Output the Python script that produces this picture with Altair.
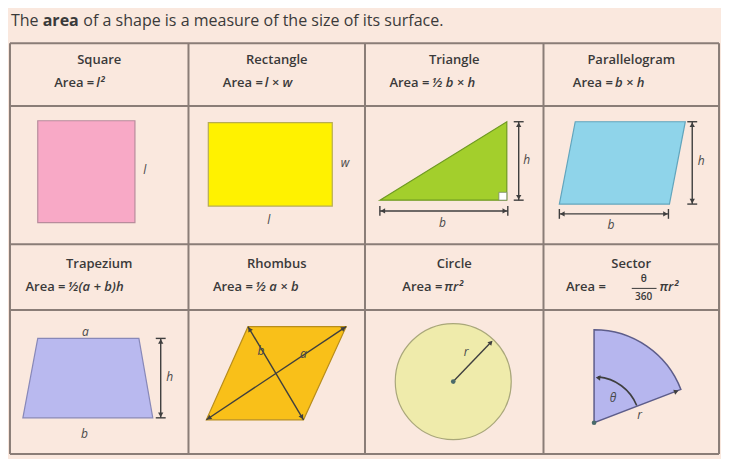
import math
import altair as alt
import pandas as pd

# ---------------- data (reference pixel coordinates) ----------------
col_edges = [12, 192, 370, 550, 727]
row_edges = [43, 107, 248, 315, 462]

shape_names = ["Square", "Rectangle", "Triangle", "Parallelogram",
               "Trapezium", "Rhombus", "Circle", "Sector"]
name_x = [102, 281, 460, 638.5, 102, 281, 460, 638.5]
name_y = [60, 60, 60, 60, 268, 268, 268, 268]
area_end_x = [97, 267, 435, 620, 68, 257, 448, 613]
formula_rhs = ["l²", "l × w", "½ b × h", "b × h", "½(a + b)h", "½ a × b", "πr²", "πr²"]
rhs_x = [99, 269, 437, 622, 70, 259, 450, 667]
formula_y = [84, 84, 84, 84, 292, 292, 292, 292]

title_parts = ["The", "area", "of a shape is a measure of the size of its surface."]
title_x = [13, 45, 86]

# rectangles: square, rectangle
rect_x1 = [40, 212]
rect_x2 = [138, 337]
rect_y1 = [122, 124]
rect_y2 = [226, 209]
rect_fill = ["#f8a9c6", "#fff200"]
rect_stroke = ["#b88c9c", "#b7ad55"]

triangle_x = [385, 513, 513]
triangle_y = [203, 123, 203]
parallelogram_x = [582, 693, 677, 566]
parallelogram_y = [123, 123, 207, 207]
trapezium_x = [40, 142, 156, 25]
trapezium_y = [344, 344, 425, 425]
rhombus_x = [252, 351, 308, 210]
rhombus_y = [332, 332, 427, 427]

circle_c = (459, 388)
circle_r = 58
sector_c = (601, 430)
sector_r = 93
sector_deg = (0, 69)
angle_arc_deg = (5, 68)
angle_arc_r = 46

labels_text = ["l", "w", "l", "h", "b", "h", "b", "a", "b", "h", "b", "a", "r", "θ", "r"]
labels_x = [148, 350, 273, 533, 448, 709, 618, 88, 87, 173, 265, 308, 472, 620, 647]
labels_y = [172, 165, 223, 162, 226, 163, 228, 337, 442, 383, 357, 360, 358, 405, 422]

# dimension lines (both-ended arrows)
dims = [
    (525, 123, 525, 203), (385, 214, 514, 214),
    (700, 123, 700, 207), (566, 217, 676, 217),
    (164, 344, 164, 425),
    (210, 427, 351, 332), (252, 332, 308, 427),
]
caps = [
    (520, 123, 530, 123), (520, 203, 530, 203),
    (385, 209, 385, 219), (514, 209, 514, 219),
    (695, 123, 705, 123), (695, 207, 705, 207),
    (566, 212, 566, 222), (676, 212, 676, 222),
    (159, 344, 169, 344), (159, 425, 169, 425),
]
radius_line = (459, 388, 497, 348)
sector_edge_tip = (684, 398)

# ---------------- helpers ----------------
W, H = 713, 451
xs = alt.Scale(domain=[10, 729], nice=False, zero=False)
ys = alt.Scale(domain=[7, 467], nice=False, zero=False, reverse=True)


def X(f):
    return alt.X(f, type="quantitative", scale=xs, axis=None)


def Y(f):
    return alt.Y(f, type="quantitative", scale=ys, axis=None)


def ang(dx, dy):
    return (math.degrees(math.atan2(dx, -dy)) + 360) % 360


TXT = "#3a3a3a"
LINE = "#3f3f3f"
layers = []

# background
bg = pd.DataFrame({"x": [10], "x2": [729], "y": [7], "y2": [467]})
layers.append(alt.Chart(bg).mark_rect(fill="#fae8de").encode(
    x=X("x"), x2="x2", y=Y("y"), y2="y2"))

# grid
grid = pd.DataFrame(
    [{"x": c, "y": row_edges[0], "x2": c, "y2": row_edges[-1]} for c in col_edges] +
    [{"x": col_edges[0], "y": r, "x2": col_edges[-1], "y2": r} for r in row_edges])
layers.append(alt.Chart(grid).mark_rule(color="#8a7d77", strokeWidth=2).encode(
    x=X("x"), y=Y("y"), x2="x2", y2="y2"))

# title
tdf = pd.DataFrame({"x": title_x, "t": title_parts, "y": [20] * 3})
for i, w in enumerate(["normal", "bold", "normal"]):
    layers.append(alt.Chart(tdf.iloc[[i]]).mark_text(
        font="Open Sans", fontSize=16, fontWeight=w, color=TXT, align="left",
        baseline="middle").encode(x=X("x"), y=Y("y"), text="t:N"))

# headers
hdf = pd.DataFrame({"x": name_x, "y": name_y, "t": shape_names})
layers.append(alt.Chart(hdf).mark_text(
    font="Open Sans", fontSize=13, fontWeight=600, color=TXT, align="center",
    baseline="middle").encode(x=X("x"), y=Y("y"), text="t:N"))
adf = pd.DataFrame({"x": area_end_x, "y": formula_y, "t": ["Area ="] * 8})
layers.append(alt.Chart(adf).mark_text(
    font="Open Sans", fontSize=13, fontWeight=600, color=TXT, align="right",
    baseline="middle").encode(x=X("x"), y=Y("y"), text="t:N"))
rdf = pd.DataFrame({"x": rhs_x, "y": formula_y, "t": formula_rhs})
layers.append(alt.Chart(rdf).mark_text(
    font="Open Sans", fontSize=13, fontWeight=600, fontStyle="italic", color=TXT,
    align="left", baseline="middle").encode(x=X("x"), y=Y("y"), text="t:N"))
# sector fraction
fdf = pd.DataFrame({"x": [651, 651], "y": [283, 302], "t": ["θ", "360"]})
layers.append(alt.Chart(fdf).mark_text(
    font="Open Sans", fontSize=10, fontWeight=600, color=TXT, align="center",
    baseline="middle").encode(x=X("x"), y=Y("y"), text="t:N"))
fl = pd.DataFrame({"x": [639], "x2": [664], "y": [293], "y2": [293]})
layers.append(alt.Chart(fl).mark_rule(color=TXT, strokeWidth=1).encode(
    x=X("x"), x2="x2", y=Y("y"), y2="y2"))

# rectangles
rdf2 = pd.DataFrame({"x": rect_x1, "x2": rect_x2, "y": rect_y1, "y2": rect_y2})
for i in range(len(rect_x1)):
    layers.append(alt.Chart(rdf2.iloc[[i]]).mark_rect(
        fill=rect_fill[i], stroke=rect_stroke[i], strokeWidth=1.2).encode(
        x=X("x"), x2="x2", y=Y("y"), y2="y2"))

# polygons
polys = [
    (triangle_x, triangle_y, "#a3cf2c", "#6f9a22"),
    (parallelogram_x, parallelogram_y, "#8fd4ea", "#62a5bd"),
    (trapezium_x, trapezium_y, "#b9b9ef", "#8888b8"),
    (rhombus_x, rhombus_y, "#f9c019", "#b88d1c"),
]
for px, py, f, s in polys:
    pdf = pd.DataFrame({"x": px, "y": py, "i": list(range(len(px)))})
    layers.append(alt.Chart(pdf).mark_line(
        interpolate="linear-closed", fill=f, stroke=s, strokeWidth=1.2).encode(
        x=X("x"), y=Y("y"), order="i:Q"))

# right-angle marker
ram = pd.DataFrame({"x": [505], "x2": [513], "y": [195], "y2": [203]})
layers.append(alt.Chart(ram).mark_rect(fill="white", stroke="#7a8a6a", strokeWidth=0.8).encode(
    x=X("x"), x2="x2", y=Y("y"), y2="y2"))

# circle and sector (arcs)
arcs = pd.DataFrame({
    "cx": [circle_c[0], sector_c[0]],
    "cy": [circle_c[1], sector_c[1]],
    "t0": [0.0, math.radians(sector_deg[0])],
    "t1": [2 * math.pi, math.radians(sector_deg[1])],
    "r": [circle_r, sector_r],
})
arc_fill = ["#efebab", "#b6b6ee"]
arc_stroke = ["#a9a77a", "#5d5d8a"]
for i in range(2):
    layers.append(alt.Chart(arcs.iloc[[i]]).mark_arc(
        fill=arc_fill[i], stroke=arc_stroke[i], strokeWidth=1.5 if i else 1.2).encode(
        x=X("cx"), y=Y("cy"),
        theta=alt.Theta("t0:Q", scale=None), theta2=alt.Theta2("t1:Q"),
        radius=alt.Radius("r:Q", scale=None)))

# angle arc
aa = pd.DataFrame({"cx": [sector_c[0]], "cy": [sector_c[1]],
                   "t0": [math.radians(angle_arc_deg[0])],
                   "t1": [math.radians(angle_arc_deg[1])],
                   "r": [angle_arc_r + 0.8], "r2": [angle_arc_r - 0.8]})
layers.append(alt.Chart(aa).mark_arc(fill=LINE).encode(
    x=X("cx"), y=Y("cy"),
    theta=alt.Theta("t0:Q", scale=None), theta2=alt.Theta2("t1:Q"),
    radius=alt.Radius("r:Q", scale=None), radius2=alt.Radius2("r2:Q")))

# dimension lines, caps, radius line
lines = pd.DataFrame([{"x": a, "y": b, "x2": c, "y2": d} for a, b, c, d in dims + caps + [radius_line]])
layers.append(alt.Chart(lines).mark_rule(color=LINE, strokeWidth=1.4).encode(
    x=X("x"), y=Y("y"), x2="x2", y2="y2"))

# arrowheads
arrows = []
for a, b, c, d in dims:
    L = math.hypot(c - a, d - b)
    ux, uy = (c - a) / L, (d - b) / L
    arrows.append({"x": a + 3 * ux, "y": b + 3 * uy, "a": ang(-ux, -uy)})
    arrows.append({"x": c - 3 * ux, "y": d - 3 * uy, "a": ang(ux, uy)})
a, b, c, d = radius_line
arrows.append({"x": c, "y": d, "a": ang(c - a, d - b)})
arrows.append({"x": sector_edge_tip[0], "y": sector_edge_tip[1],
               "a": ang(sector_edge_tip[0] - sector_c[0], sector_edge_tip[1] - sector_c[1])})
phi = math.radians(angle_arc_deg[0])
arrows.append({"x": sector_c[0] + angle_arc_r * math.sin(phi),
               "y": sector_c[1] - angle_arc_r * math.cos(phi),
               "a": ang(-math.cos(phi), -math.sin(phi))})
adf2 = pd.DataFrame(arrows)
layers.append(alt.Chart(adf2).mark_point(shape="triangle-up", filled=True, size=28,
                                         color=LINE, opacity=1).encode(
    x=X("x"), y=Y("y"), angle=alt.Angle("a:Q", scale=None)))

# centre dots
dots = pd.DataFrame({"x": [circle_c[0], sector_c[0]], "y": [circle_c[1], sector_c[1]]})
layers.append(alt.Chart(dots).mark_point(shape="circle", filled=True, size=22,
                                         color="#4a6a6a", opacity=1).encode(
    x=X("x"), y=Y("y")))

# shape labels
ldf = pd.DataFrame({"x": labels_x, "y": labels_y, "t": labels_text})
layers.append(alt.Chart(ldf).mark_text(
    font="Open Sans", fontSize=12, fontStyle="italic", color="#4a4a4a",
    align="center", baseline="middle").encode(x=X("x"), y=Y("y"), text="t:N"))

chart = alt.layer(*layers).properties(
    width=W, height=H, padding=0, autosize=alt.AutoSizeParams(type="none"),
    background="white"
).configure_view(stroke=None)

chart.save("out.html", embed_options={"renderer": "svg", "actions": False})
